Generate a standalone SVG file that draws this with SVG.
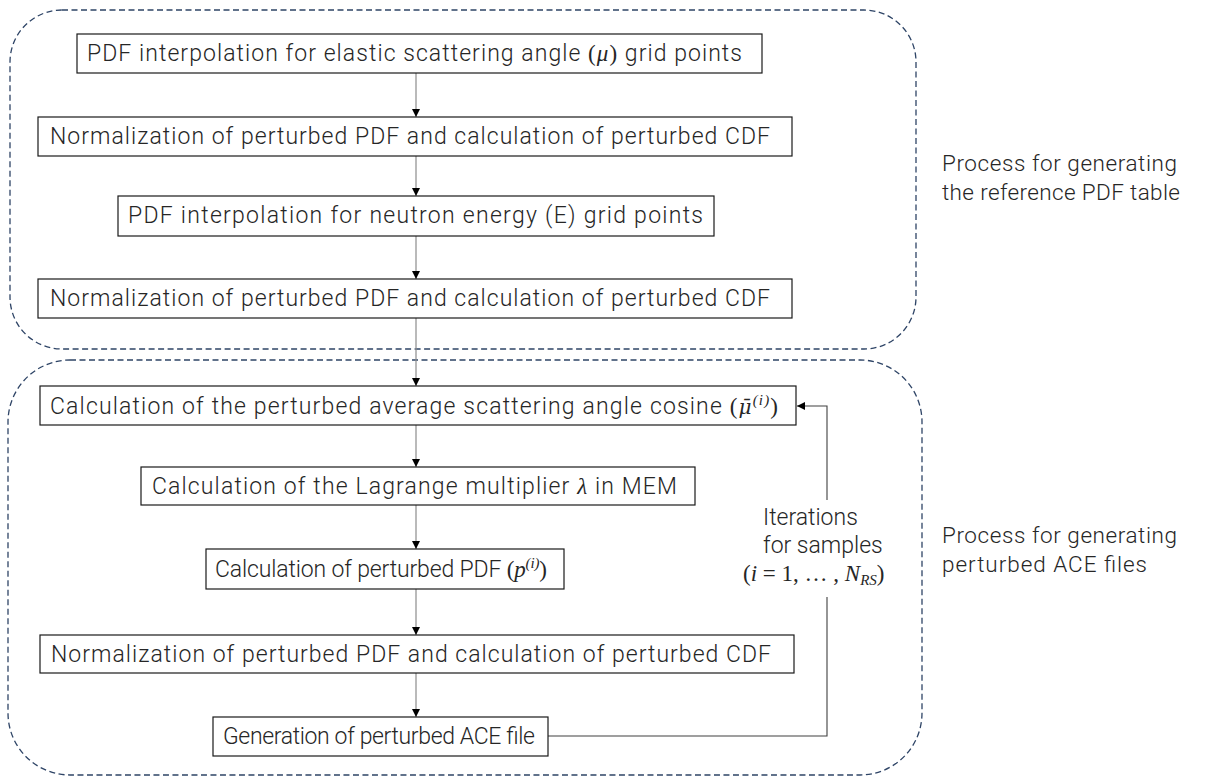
<svg xmlns="http://www.w3.org/2000/svg" width="1213" height="776" viewBox="0 0 1213 776">
  <style>
    .group-frame { fill: none; stroke: #2E4466; stroke-width: 1.3; stroke-dasharray: 6 3.5; }
    .box { fill: #ffffff; stroke: #1a1a1a; stroke-width: 1.2; }
    .lbl { font-family: Roboto, "Noto Sans CJK JP", sans-serif; font-weight: 300; font-size: 23px; fill: #262626; }
    .side { font-family: Roboto, "Noto Sans CJK JP", sans-serif; font-weight: 300; font-size: 22.5px; fill: #262626; }
    .math { font-family: "Liberation Serif", "DejaVu Serif", serif; font-style: italic; font-weight: 400; }
    .bar { font-family: "DejaVu Serif", serif; font-style: italic; font-weight: 400; font-size: 20px; }
    .upright { font-family: "Liberation Serif", "DejaVu Serif", serif; font-style: normal; font-weight: 400; }
    .up { font-size: 15px; }
    .flow { fill: none; stroke: #8c8c8c; stroke-width: 1.2; marker-end: url(#head); }
    .loop { fill: none; stroke: #404040; stroke-width: 1.1; }
  </style>
  <defs>
    <marker id="head" viewBox="0 0 8 8" refX="8" refY="4" markerWidth="8" markerHeight="8" markerUnits="userSpaceOnUse" orient="auto">
      <path d="M0,0 L8,4 L0,8 z" fill="#000000"/>
    </marker>
  </defs>

  <!-- process groups -->
  <g id="group-reference">
    <rect class="group-frame" x="10" y="10" width="906" height="339" rx="52" ry="52"/>
    <text class="side" x="942" y="171" textLength="235" lengthAdjust="spacing">Process for generating</text>
    <text class="side" x="942" y="200" textLength="238" lengthAdjust="spacing">the reference PDF table</text>
  </g>
  <g id="group-perturbed">
    <rect class="group-frame" x="8" y="360" width="914" height="415" rx="62" ry="62"/>
    <text class="side" x="942" y="543" textLength="235" lengthAdjust="spacing">Process for generating</text>
    <text class="side" x="942" y="572" textLength="205" lengthAdjust="spacing">perturbed ACE files</text>
  </g>

  <!-- connectors -->
  <g id="connectors">
    <line class="flow" x1="416" y1="73" x2="416" y2="117"/>
    <line class="flow" x1="416" y1="156" x2="416" y2="196"/>
    <line class="flow" x1="416" y1="236" x2="416" y2="279"/>
    <line class="flow" x1="416" y1="318" x2="416" y2="386"/>
    <line class="flow" x1="416" y1="425" x2="416" y2="467"/>
    <line class="flow" x1="416" y1="505" x2="416" y2="549"/>
    <line class="flow" x1="416" y1="589" x2="416" y2="635"/>
    <line class="flow" x1="416" y1="673" x2="416" y2="717"/>
    <!-- sample loop back to the average cosine step -->
    <polyline class="loop" points="548,736 827,736 827,597"/>
    <polyline class="loop" points="827,500 827,406 797,406" marker-end="url(#head)"/>
    <text class="lbl" x="763" y="525" font-size="21.5">Iterations</text>
    <text class="lbl" x="763" y="553" font-size="21.5">for samples</text>
    <text class="lbl" x="743" y="581" font-size="22"><tspan class="upright">(</tspan><tspan class="math">i</tspan><tspan class="upright"> = 1, … , </tspan><tspan class="math">N</tspan><tspan class="math up" dy="4">RS</tspan><tspan class="upright" dy="-4">)</tspan></text>
  </g>

  <!-- steps -->
  <g id="step-pdf-mu">
    <rect class="box" x="77" y="34" width="685" height="39"/>
    <text class="lbl" x="87" y="61" textLength="655" lengthAdjust="spacing">PDF interpolation for elastic scattering angle <tspan class="upright">(</tspan><tspan class="math">μ</tspan><tspan class="upright">)</tspan> grid points</text>
  </g>
  <g id="step-norm-1">
    <rect class="box" x="38" y="117" width="754" height="39"/>
    <text class="lbl" x="50" y="144" textLength="720" lengthAdjust="spacing">Normalization of perturbed PDF and calculation of perturbed CDF</text>
  </g>
  <g id="step-pdf-e">
    <rect class="box" x="118" y="196" width="596" height="40"/>
    <text class="lbl" x="128" y="223" textLength="575" lengthAdjust="spacing">PDF interpolation for neutron energy (E) grid points</text>
  </g>
  <g id="step-norm-2">
    <rect class="box" x="38" y="279" width="754" height="39"/>
    <text class="lbl" x="50" y="306" textLength="720" lengthAdjust="spacing">Normalization of perturbed PDF and calculation of perturbed CDF</text>
  </g>
  <g id="step-mean-cosine">
    <rect class="box" x="40" y="386" width="756" height="39"/>
    <text class="lbl" x="50" y="414" textLength="728" lengthAdjust="spacing">Calculation of the perturbed average scattering angle cosine <tspan class="upright">(</tspan><tspan class="bar">μ̄</tspan><tspan class="math up" dy="-9">(i)</tspan><tspan class="upright" dy="9">)</tspan></text>
  </g>
  <g id="step-lagrange">
    <rect class="box" x="141" y="467" width="554" height="38"/>
    <text class="lbl" x="152" y="494" textLength="525" lengthAdjust="spacing">Calculation of the Lagrange multiplier <tspan class="math" font-weight="bold">λ</tspan> in MEM</text>
  </g>
  <g id="step-perturbed-pdf">
    <rect class="box" x="206" y="549" width="358" height="40"/>
    <text class="lbl" x="215" y="577" font-size="21.5" textLength="332" lengthAdjust="spacing">Calculation of perturbed PDF <tspan class="upright">(</tspan><tspan class="math">p</tspan><tspan class="math up" dy="-9">(i)</tspan><tspan class="upright" dy="9">)</tspan></text>
  </g>
  <g id="step-norm-3">
    <rect class="box" x="40" y="635" width="754" height="38"/>
    <text class="lbl" x="51" y="662" textLength="720" lengthAdjust="spacing">Normalization of perturbed PDF and calculation of perturbed CDF</text>
  </g>
  <g id="step-ace">
    <rect class="box" x="213" y="717" width="335" height="39"/>
    <text class="lbl" x="223" y="744" font-size="21.5" textLength="312" lengthAdjust="spacing">Generation of perturbed ACE file</text>
  </g>
</svg>
